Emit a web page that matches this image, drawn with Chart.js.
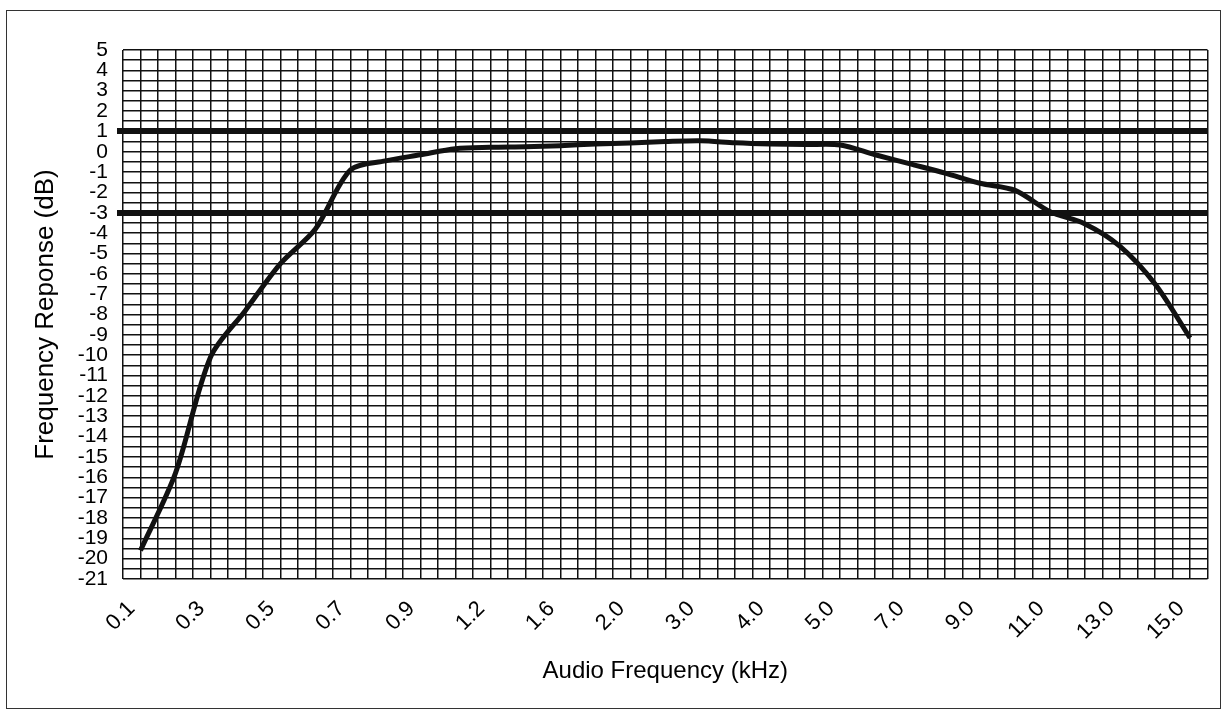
<!DOCTYPE html>
<html>
<head>
<meta charset="utf-8">
<script src="https://cdn.jsdelivr.net/npm/chart.js@4/dist/chart.umd.min.js"></script>
<style>
  html, body { margin: 0; padding: 0; background: #fff; }
  #frame { position: absolute; left: 6px; top: 10px; width: 1213px; height: 697px; border: 1.5px solid #333; }
  #c { position: absolute; left: 0; top: 0; }
</style>
</head>
<body>
<div id="frame"></div>
<canvas id="c" width="1226" height="718"></canvas>
<script>
// audio frequency categories (kHz), every second one is labelled
const frecuencias = ['0.1', '0.2', '0.3', '0.4', '0.5', '0.6', '0.7', '0.8', '0.9', '1.0',
  '1.2', '1.4', '1.6', '1.8', '2.0', '2.5', '3.0', '3.5', '4.0', '4.5',
  '5.0', '6.0', '7.0', '8.0', '9.0', '10.0', '11.0', '12.0', '13.0', '14.0', '15.0'];

// frequency response (dB)
const respuesta = [-19.6, -15.8, -10.1, -7.8, -5.5, -3.8, -0.9, -0.45, -0.15, 0.15,
  0.22, 0.25, 0.3, 0.38, 0.43, 0.5, 0.54, 0.44, 0.38, 0.35,
  0.33, -0.15, -0.6, -1.05, -1.55, -1.9, -2.95, -3.55, -4.65, -6.5, -9.15];

// reference levels drawn as heavy lines
const limites = [1, -3];

const yMin = -21;
const yMax = 5;

const fuente = "'Liberation Sans', Arial, sans-serif";

const ctx = document.getElementById('c').getContext('2d');

const myChart = new Chart(ctx, {
  type: 'line',
  data: {
    labels: frecuencias,
    datasets: [{
      label: 'Frequency Reponse',
      data: respuesta,
      borderColor: '#111',
      borderWidth: 5,
      pointRadius: 0,
      tension: 0.3,
      fill: false,
      xAxisID: 'x',
      yAxisID: 'y'
    }]
  },
  options: {
    responsive: false,
    animation: false,
    layout: {
      padding: { left: 0, top: 50, right: 18, bottom: 0 }
    },
    plugins: {
      legend: { display: false },
      tooltip: { enabled: false }
    },
    scales: {
      x: {
        type: 'category',
        position: 'bottom',
        offset: true,
        grid: { display: false, drawTicks: false },
        border: { display: false },
        ticks: {
          autoSkip: false,
          minRotation: 45,
          maxRotation: 45,
          padding: 17,
          labelOffset: -9,
          color: '#000',
          font: { family: fuente, size: 22 },
          callback: function (value, index) {
            return index % 2 === 0 ? frecuencias[index] : '';
          }
        },
        title: {
          display: true,
          text: 'Audio Frequency (kHz)',
          color: '#000',
          font: { family: fuente, size: 24 },
          padding: { top: 0, bottom: 32 }
        },
        afterFit: function (scale) { scale.height = 139; }
      },
      // graph-paper grid, two lines per category
      xg: {
        type: 'linear',
        position: 'top',
        min: 0,
        max: frecuencias.length * 2,
        grid: { color: '#111', lineWidth: 1.5, drawTicks: false },
        border: { display: false },
        ticks: { display: false, stepSize: 1, autoSkip: false },
        afterFit: function (scale) { scale.height = 0; }
      },
      y: {
        type: 'linear',
        min: yMin,
        max: yMax,
        grid: {
          color: '#111',
          lineWidth: function (c) {
            return limites.includes(c.tick && c.tick.value) ? 6 : 1.5;
          },
          tickLength: 6,
          tickColor: function (c) {
            return limites.includes(c.tick && c.tick.value) ? '#111' : 'rgba(0,0,0,0)';
          },
          tickWidth: function (c) {
            return limites.includes(c.tick && c.tick.value) ? 6 : 1;
          }
        },
        border: { display: false },
        ticks: {
          stepSize: 0.5,
          autoSkip: false,
          padding: 9,
          color: '#000',
          font: { family: fuente, size: 21 },
          callback: function (value) {
            return Number.isInteger(value) ? value : '';
          }
        },
        title: {
          display: true,
          text: 'Frequency Reponse (dB)',
          color: '#000',
          font: { family: fuente, size: 26 },
          padding: { top: 30, bottom: 0 }
        },
        afterFit: function (scale) { scale.width = 123; }
      }
    }
  }
});
</script>
</body>
</html>
